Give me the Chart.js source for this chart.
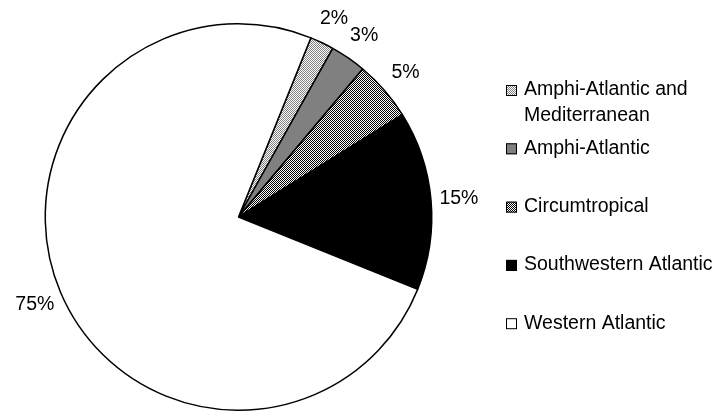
<!DOCTYPE html>
<html>
<head>
<meta charset="utf-8">
<script src="https://cdn.jsdelivr.net/npm/chart.js@4"></script>
<style>
  html, body { margin: 0; padding: 0; background: #fff; }
  #wrap { width: 717px; height: 412px; position: relative; }
</style>
</head>
<body>
<div id="wrap"><canvas id="distChart" width="717" height="412"></canvas></div>
<script>
// Distribution categories and their shares (%)
const categories = [
    ['Amphi-Atlantic and', 'Mediterranean'],
    'Amphi-Atlantic',
    'Circumtropical',
    'Southwestern Atlantic',
    'Western Atlantic'
];
const shares = [2, 3, 5, 15, 75];

// Build a small repeating fill from a 2x2 tile
function makePattern(a, b) {
    const tile = document.createElement('canvas');
    tile.width = 2;
    tile.height = 2;
    const t = tile.getContext('2d');
    t.fillStyle = b;
    t.fillRect(0, 0, 2, 2);
    t.fillStyle = a;
    t.fillRect(0, 0, 1, 1);
    t.fillRect(1, 1, 1, 1);
    return t.createPattern(tile, 'repeat');
}

const fills = [
    makePattern('#808080', '#ffffff'),
    '#808080',
    makePattern('#000000', '#ffffff'),
    '#000000',
    '#ffffff'
];

const FONT = '19.5px "Liberation Sans", Arial, sans-serif';

// Percent labels placed just outside each slice
const outsideLabels = {
    id: 'outsideLabels',
    afterDatasetsDraw(chart) {
        const ctx = chart.ctx;
        const meta = chart.getDatasetMeta(0);
        ctx.save();
        ctx.font = FONT;
        ctx.fillStyle = '#000';
        ctx.textAlign = 'center';
        ctx.textBaseline = 'middle';
        meta.data.forEach((arc, i) => {
            const p = arc.getProps(['x', 'y', 'startAngle', 'endAngle', 'outerRadius'], true);
            const mid = (p.startAngle + p.endAngle) / 2;
            const r = p.outerRadius + 28;
            ctx.fillText(shares[i] + '%', p.x + Math.cos(mid) * r, p.y + Math.sin(mid) * r + 1);
        });
        ctx.restore();
    }
};

// Legend on the right, one row per category
const sideLegend = {
    id: 'sideLegend',
    afterDraw(chart) {
        const ctx = chart.ctx;
        const left = 506;
        const rowTop = 90;
        const rowGap = 58.3;
        ctx.save();
        ctx.font = FONT;
        ctx.textBaseline = 'middle';
        categories.forEach((label, i) => {
            const y = rowTop + i * rowGap;
            ctx.fillStyle = fills[i];
            ctx.fillRect(left, y - 5, 11, 11);
            ctx.strokeStyle = '#000';
            ctx.lineWidth = 1;
            ctx.strokeRect(left + 0.5, y - 4.5, 10, 10);
            ctx.fillStyle = '#000';
            const lines = Array.isArray(label) ? label : [label];
            lines.forEach((line, j) => ctx.fillText(line, left + 18, y + j * 26));
        });
        ctx.restore();
    }
};

new Chart(document.getElementById('distChart').getContext('2d'), {
    type: 'pie',
    data: {
        labels: categories.map(c => Array.isArray(c) ? c.join(' ') : c),
        datasets: [{
            data: shares,
            backgroundColor: fills,
            borderColor: '#000',
            borderWidth: 1.5
        }]
    },
    options: {
        responsive: false,
        animation: false,
        rotation: 22,
        layout: {
            padding: { left: 43, right: 283, top: 23, bottom: 1 }
        },
        plugins: {
            legend: { display: false },
            tooltip: { enabled: false }
        }
    },
    plugins: [outsideLabels, sideLegend]
});
</script>
</body>
</html>
